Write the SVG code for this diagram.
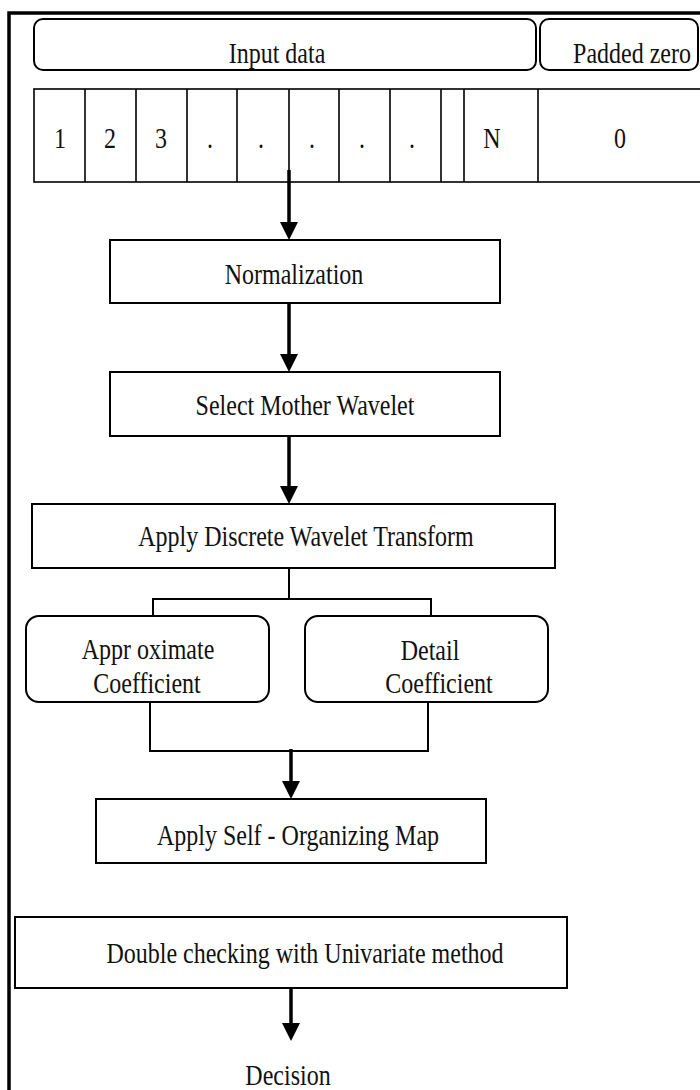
<svg xmlns="http://www.w3.org/2000/svg" width="700" height="1090" viewBox="0 0 700 1090">
<defs>
<style>
.t{font-family:"Liberation Serif","Times New Roman",serif;font-size:24px;fill:#111;text-anchor:middle}
.box{fill:#fff;stroke:#000;stroke-width:2}
.thin{fill:none;stroke:#000;stroke-width:1.6}
.ln{fill:none;stroke:#000;stroke-width:2}
.ar{fill:none;stroke:#000;stroke-width:3.5}
.hd{fill:#000}
</style>
</defs>
<rect width="700" height="1090" fill="#fff"/>
<g id="frame">
<path class="ar" d="M9,1090 V13 H700" stroke-width="2.5"/>
</g>
<g id="input-data">
<rect class="box" x="34" y="19" width="502" height="51" rx="9"/>
<text class="t" transform="translate(277 63) scale(1 1.25)">Input data</text>
</g>
<g id="padded-zero">
<rect class="box" x="540" y="19" width="158" height="51" rx="9"/>
<text class="t" transform="translate(632 63) scale(1 1.25)">Padded zero</text>
</g>
<g id="cells">
<rect class="thin" x="34" y="89" width="690" height="93" stroke-width="2"/>
<path class="thin" d="M85,89V182M136,89V182M187,89V182M237,89V182M289,89V182M339,89V182M390,89V182M441,89V182M464,89V182M538,89V182"/>
<text class="t" transform="translate(60 148) scale(1 1.25)">1</text>
<text class="t" transform="translate(110 148) scale(1 1.25)">2</text>
<text class="t" transform="translate(161 148) scale(1 1.25)">3</text>
<text class="t" transform="translate(210 148) scale(1 1.25)">.</text>
<text class="t" transform="translate(261 148) scale(1 1.25)">.</text>
<text class="t" transform="translate(312 148) scale(1 1.25)">.</text>
<text class="t" transform="translate(362 148) scale(1 1.25)">.</text>
<text class="t" transform="translate(412 148) scale(1 1.25)">.</text>
<text class="t" transform="translate(492 148) scale(1 1.25)">N</text>
<text class="t" transform="translate(620 148) scale(1 1.25)">0</text>
</g>
<g id="normalization">
<rect class="box" x="110" y="240" width="390" height="63"/>
<text class="t" transform="translate(294 284) scale(1 1.25)">Normalization</text>
</g>
<g id="select-mother-wavelet">
<rect class="box" x="110" y="372" width="390" height="64"/>
<text class="t" transform="translate(305 415) scale(1 1.25)">Select Mother Wavelet</text>
</g>
<g id="dwt">
<rect class="box" x="32" y="504" width="523" height="64"/>
<text class="t" transform="translate(306 546) scale(1 1.25)">Apply Discrete Wavelet Transform</text>
</g>
<g id="approximate">
<rect class="box" x="26" y="616" width="243" height="86" rx="13"/>
<text class="t" transform="translate(148 659) scale(1 1.25)">Appr oximate</text>
<text class="t" transform="translate(147 693) scale(1 1.25)">Coefficient</text>
</g>
<g id="detail">
<rect class="box" x="305" y="616" width="243" height="86" rx="13"/>
<text class="t" transform="translate(430 660) scale(1 1.25)">Detail</text>
<text class="t" transform="translate(439 693) scale(1 1.25)">Coefficient</text>
</g>
<g id="som">
<rect class="box" x="96" y="799" width="390" height="64"/>
<text class="t" transform="translate(298 845) scale(1 1.25)">Apply Self - Organizing Map</text>
</g>
<g id="double-checking">
<rect class="box" x="15" y="917" width="552" height="71"/>
<text class="t" transform="translate(305 963) scale(1 1.25)">Double checking with Univariate method</text>
</g>
<g id="decision">
<text class="t" transform="translate(288 1085) scale(1 1.25)">Decision</text>
</g>
<g id="connectors">
<path class="ar" d="M289,170V224"/>
<polygon class="hd" points="280,222 298,222 289,240"/>
<path class="ar" d="M289,303V356"/>
<polygon class="hd" points="280,354 298,354 289,372"/>
<path class="ar" d="M289,436V488"/>
<polygon class="hd" points="280,486 298,486 289,504"/>
<path class="ln" d="M289,568V599M153,616V599H431V616"/>
<path class="ln" d="M150,702V751H428V702"/>
<path class="ar" d="M291,749V783"/>
<polygon class="hd" points="282,781 300,781 291,799"/>
<path class="ar" d="M291,988V1025"/>
<polygon class="hd" points="282,1023 300,1023 291,1041"/>
</g>
</svg>
